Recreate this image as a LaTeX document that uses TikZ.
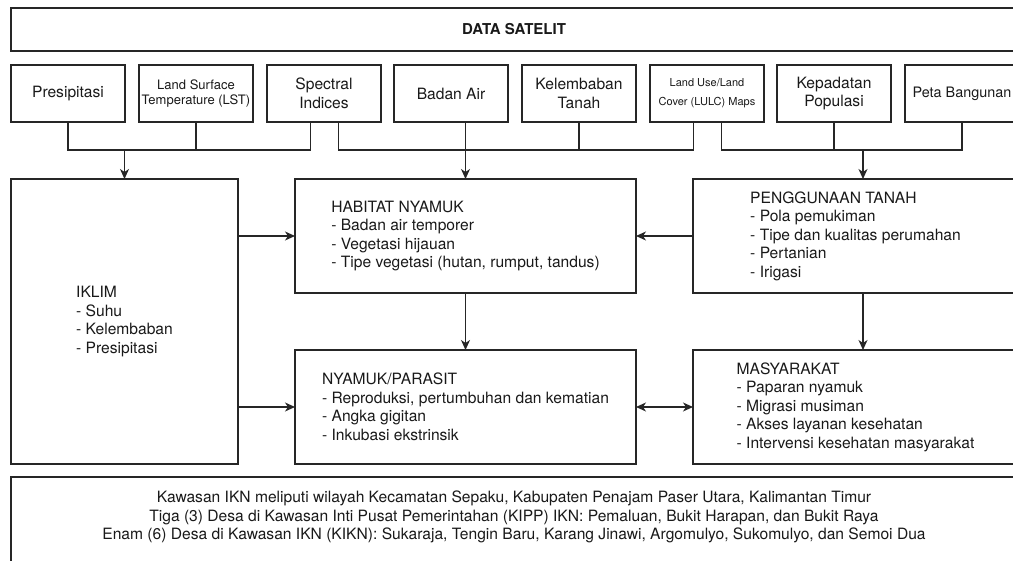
\documentclass[tikz,border=0pt]{standalone}
\usepackage{fontspec}
\setmainfont{TeX Gyre Heros}
\usetikzlibrary{arrows.meta,calc}

\begin{document}
\begin{tikzpicture}[x=1pt,y=-1pt,
  every node/.style={inner sep=0pt,outer sep=0pt,text=black!90},
  box/.style={draw=black!85,line width=1.2pt,anchor=north west,font=\fontsize{15.6}{18.5}\selectfont},
  srcbox/.style={box,minimum width=114,minimum height=57,align=center},
  bigbox/.style={box,align=left},
  conn/.style={draw=black!85,line width=1.2pt},
  arr/.style={conn,-{Stealth[length=10pt,width=9pt,inset=3pt]}},
  darr/.style={conn,{Stealth[length=10pt,width=9pt,inset=3pt]}-{Stealth[length=10pt,width=9pt,inset=3pt]}}]
\clip (0,0) rectangle (1013,561);

\node[box,minimum width=1006,minimum height=43,font=\bfseries\fontsize{15}{18}\selectfont] (sat) at (11,8) {DATA SATELIT};

% sumber data
\node[srcbox] (pre) at (11,65) {Presipitasi};
\node[srcbox,font=\fontsize{13}{15}\selectfont] (lst) at (139,65) {Land Surface\\Temperature (LST)};
\node[srcbox] (spec) at (267,65) {Spectral\\Indices};
\node[srcbox] (air) at (394,65) {Badan Air};
\node[srcbox] (lemb) at (522,65) {Kelembaban\\Tanah};
\node[srcbox,font=\fontsize{11}{19}\selectfont] (lulc) at (650,65) {Land Use/Land\\Cover (LULC) Maps};
\node[srcbox] (pop) at (777,65) {Kepadatan\\Populasi};
\node[srcbox,font=\fontsize{14.4}{18}\selectfont] (bang) at (905,65) {Peta Bangunan};

% faktor
\node[bigbox,minimum width=227,minimum height=285] (iklim) at (11,179) {IKLIM\\- Suhu\\- Kelembaban\\- Presipitasi};
\node[bigbox,minimum width=341,minimum height=114] (hab) at (295,179) {HABITAT NYAMUK\\- Badan air temporer\\- Vegetasi hijauan\\- Tipe vegetasi (hutan, rumput, tandus)};
\node[bigbox,minimum width=341,minimum height=114] (nyamuk) at (295,350) {NYAMUK/PARASIT\\- Reproduksi, pertumbuhan dan kematian\\- Angka gigitan\\- Inkubasi ekstrinsik};
\node[bigbox,minimum width=325,minimum height=114] (tanah) at (693,179) {PENGGUNAAN TANAH\\- Pola pemukiman\\- Tipe dan kualitas perumahan\\- Pertanian\\- Irigasi};
\node[bigbox,minimum width=325,minimum height=114] (masy) at (693,350) {MASYARAKAT\\- Paparan nyamuk\\- Migrasi musiman\\- Akses layanan kesehatan\\- Intervensi kesehatan masyarakat};

% lokasi
\node[box,minimum width=1006,minimum height=100] (lok) at (11,477) {};
\node[font=\fontsize{15.6}{18.5}\selectfont,align=center] (lokteks) at (514,517) {Kawasan IKN meliputi wilayah Kecamatan Sepaku, Kabupaten Penajam Paser Utara, Kalimantan Timur\\Tiga (3) Desa di Kawasan Inti Pusat Pemerintahan (KIPP) IKN: Pemaluan, Bukit Harapan, dan Bukit Raya\\Enam (6) Desa di Kawasan IKN (KIKN): Sukaraja, Tengin Baru, Karang Jinawi, Argomulyo, Sukomulyo, dan Semoi Dua};

% garis ke iklim
\coordinate (jA) at ($(pre.south)+(0,28)$);
\draw[conn] (pre.south) -- (jA) -| ($(spec.south)+(-13.5,0)$);
\draw[conn] (lst.south) -- (lst.south |- jA);
\draw[arr] (iklim.north |- jA) -- (iklim.north);

% garis ke habitat
\coordinate (jB) at ($(spec.south)+(14.5,28)$);
\draw[conn] ($(spec.south)+(14.5,0)$) -- (jB) -| ($(lulc.south)+(-13.5,0)$);
\draw[conn] (lemb.south) -- (lemb.south |- jB);
\draw[arr] (hab.north |- air.south) -- (hab.north);

% garis ke penggunaan tanah
\coordinate (jC) at ($(lulc.south)+(14.5,28)$);
\coordinate (tIn) at ($(tanah.north)+(7.5,0)$);
\draw[conn] ($(lulc.south)+(14.5,0)$) -- (jC) -| (bang.south);
\draw[conn] (pop.south) -- (pop.south |- jC);
\draw[arr] (tIn |- jC) -- (tIn);

\draw[arr] (iklim.east |- hab.west) -- (hab.west);
\draw[arr] (iklim.east |- nyamuk.west) -- (nyamuk.west);
\draw[arr] (tanah.west) -- (hab.east);
\draw[arr] (hab.south) -- (nyamuk.north);
\draw[arr] ($(tanah.south)+(7.5,0)$) -- ($(masy.north)+(7.5,0)$);
\draw[darr] (nyamuk.east) -- (masy.west);
\end{tikzpicture}
\end{document}
